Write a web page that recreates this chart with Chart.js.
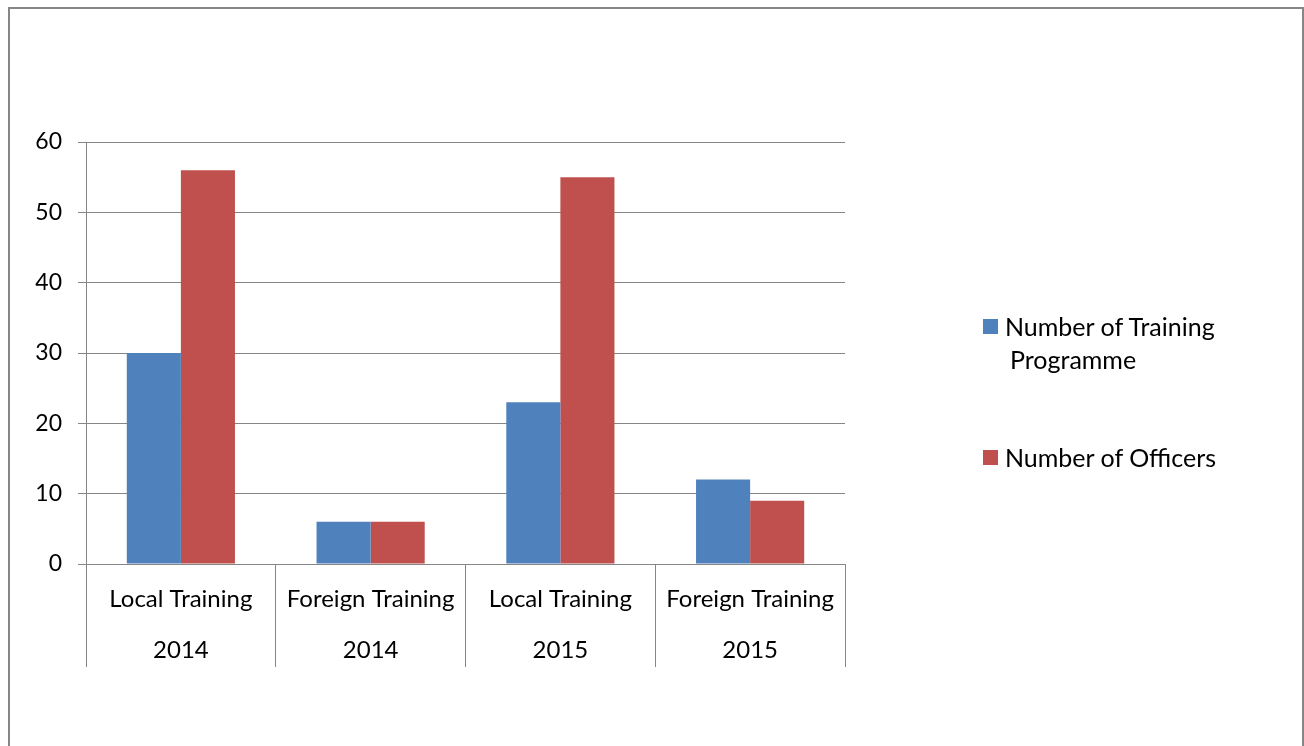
<!DOCTYPE html>
<html>
<head>
<meta charset="utf-8">
<script src="https://cdn.jsdelivr.net/npm/chart.js@4/dist/chart.umd.min.js"></script>
<style>
html, body { margin: 0; padding: 0; background: #fff; overflow: hidden; }
#frame { position: absolute; left: 8px; top: 7px; width: 1292px; height: 800px; border: 2px solid #868686; }
#chart { position: absolute; left: 0; top: 0; }
.key { position: absolute; left: 983px; font-family: Lato, sans-serif; font-size: 25px; color: #000; width: 270px; }
.key span.sw { position: absolute; left: 0; width: 15px; height: 15px; }
.key span.tx { display: block; margin-left: 22px; padding-left: 5px; text-indent: -5px; line-height: 33px; width: 225px; }
</style>
</head>
<body>
<div id="frame"></div>
<canvas id="chart" width="1304" height="746"></canvas>
<div id="legend"></div>
<script>
// categories: training type / year
const categories = [
  ['Local Training', '2014'],
  ['Foreign Training', '2014'],
  ['Local Training', '2015'],
  ['Foreign Training', '2015']
];
const programmes = [30, 6, 23, 12];
const officers = [56, 6, 55, 9];
const seriesNames = ['Number of Training Programme', 'Number of Officers'];
const colors = ['#4F81BD', '#C0504D'];

const gridGray = '#868686';

const ctx = document.getElementById('chart');
const chart = new Chart(ctx, {
  type: 'bar',
  data: {
    labels: categories,
    datasets: [
      {
        label: seriesNames[0],
        data: programmes,
        backgroundColor: colors[0],
        borderWidth: 0,
        categoryPercentage: 0.57,
        barPercentage: 1
      },
      {
        label: seriesNames[1],
        data: officers,
        backgroundColor: colors[1],
        borderWidth: 0,
        categoryPercentage: 0.57,
        barPercentage: 1
      }
    ]
  },
  options: {
    responsive: false,
    animation: false,
    layout: { padding: { left: 20, top: 142, right: 459, bottom: 0 } },
    plugins: {
      legend: { display: false },
      tooltip: { enabled: false }
    },
    scales: {
      x: {
        grid: { offset: true, drawOnChartArea: false, tickLength: 103, color: gridGray, lineWidth: 1 },
        border: { color: gridGray, width: 1 },
        ticks: {
          color: '#000',
          font: { family: 'Lato', size: 24, lineHeight: 2.13 },
          padding: -93,
          maxRotation: 0,
          autoSkip: false
        },
        afterFit: (s) => { s.height = 746 - 564; }
      },
      y: {
        min: 0,
        max: 60,
        grid: { color: gridGray, tickLength: 8, lineWidth: 1 },
        border: { color: gridGray, width: 1 },
        ticks: { stepSize: 10, color: '#000', font: { family: 'Lato', size: 23 }, padding: 16 },
        afterFit: (s) => { s.width = 86 - 20; }
      }
    }
  }
});

// legend on the right, wrapped like the original
const legend = document.getElementById('legend');
const tops = [310, 441];
seriesNames.forEach((name, i) => {
  const item = document.createElement('div');
  item.className = 'key';
  item.style.top = tops[i] + 'px';
  item.innerHTML = '<span class="sw" style="top:9px;background:' + colors[i] + '"></span><span class="tx">' + name + '</span>';
  legend.appendChild(item);
});
</script>
</body>
</html>
